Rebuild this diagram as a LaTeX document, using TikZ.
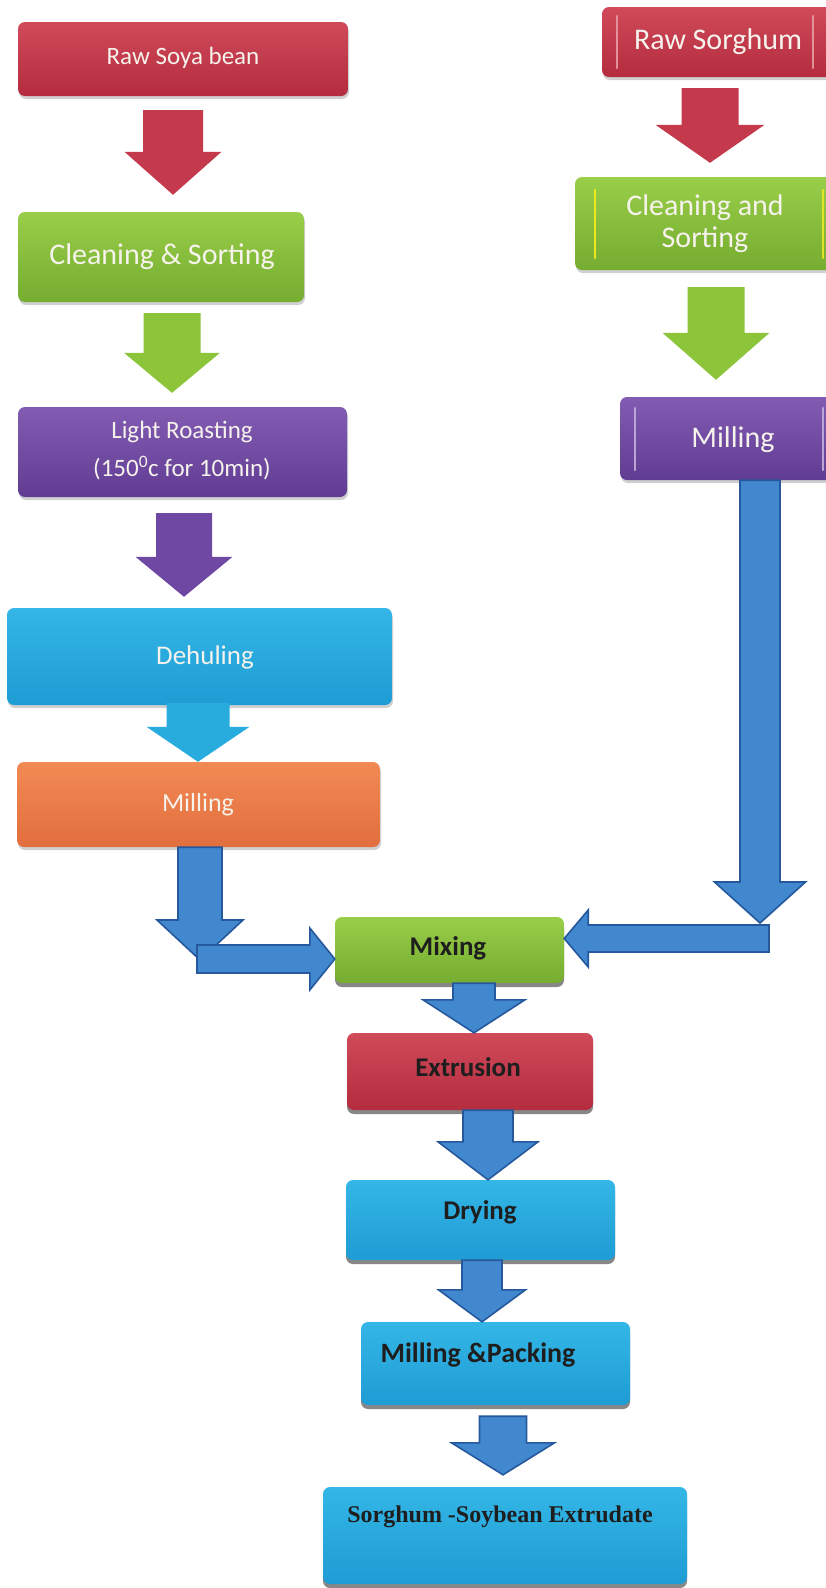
\documentclass[tikz,border=0pt]{standalone}
\usepackage{fontspec}
\setmainfont{Carlito}
\newfontfamily\timesf{Liberation Serif}
\usetikzlibrary{calc,shadows}

\definecolor{redT}{RGB}{208,74,90}
\definecolor{redB}{RGB}{180,44,62}
\definecolor{grnT}{RGB}{152,206,72}
\definecolor{grnB}{RGB}{118,172,48}
\definecolor{purT}{RGB}{130,92,178}
\definecolor{purB}{RGB}{96,60,146}
\definecolor{cyaT}{RGB}{52,182,230}
\definecolor{cyaB}{RGB}{30,156,212}
\definecolor{oraT}{RGB}{242,138,84}
\definecolor{oraB}{RGB}{226,110,62}
\definecolor{redA}{RGB}{196,58,76}
\definecolor{grnA}{RGB}{140,196,58}
\definecolor{purA}{RGB}{110,72,162}
\definecolor{cyaA}{RGB}{40,172,222}
\definecolor{bluF}{RGB}{66,136,206}
\definecolor{bluD}{RGB}{38,88,158}
\definecolor{txtw}{RGB}{246,242,236}
\definecolor{txtk}{RGB}{30,30,30}

\newcommand\varr[6]{\path[#1] let \p1=#2, \p2=#3 in
  ({\x1-#4},\y1) -- ({\x1+#4},\y1) -- ({\x1+#4},{\y2+#6}) -- ({\x1+#5},{\y2+#6})
  -- (\x1,\y2) -- ({\x1-#5},{\y2+#6}) -- ({\x1-#4},{\y2+#6}) -- cycle;}
\newcommand\harr[6]{\path[#1] let \p1=#2, \p2=#3 in
  (\x1,{\y1+#4}) -- ({\x2-(#6)},{\y1+#4}) -- ({\x2-(#6)},{\y1+#5}) -- (\x2,\y1)
  -- ({\x2-(#6)},{\y1-#5}) -- ({\x2-(#6)},{\y1-#4}) -- (\x1,{\y1-#4}) -- cycle;}

\tikzset{
  box/.style={rounded corners=7pt, inner sep=0pt, draw=none},
  upshadow/.style={drop shadow={shadow xshift=1pt, shadow yshift=-3pt, fill=black!30, opacity=0.6}},
  loshadow/.style={drop shadow={shadow xshift=0pt, shadow yshift=-4pt, fill=black!55, opacity=0.85}},
  redbox/.style={box, top color=redT, bottom color=redB},
  grnbox/.style={box, top color=grnT, bottom color=grnB},
  purbox/.style={box, top color=purT, bottom color=purB},
  cyabox/.style={box, top color=cyaT, bottom color=cyaB},
  orabox/.style={box, top color=oraT, bottom color=oraB},
  wlbl/.style={inner sep=0pt, text=txtw, align=center},
  klbl/.style={inner sep=0pt, text=txtk, align=center, font=\bfseries\fontsize{27}{30}\selectfont},
  bevel/.style={line width=2.5pt, line cap=round},
  redarr/.style={fill=redA},
  grnarr/.style={fill=grnA},
  purarr/.style={fill=purA},
  cyaarr/.style={fill=cyaA},
  bluarr/.style={fill=bluF, draw=bluD, line width=1.6pt, line join=miter},
}

\begin{document}
\begin{tikzpicture}[x=1pt, y=-1pt]
\useasboundingbox (0,0) rectangle (826,1588);
\fill[white] (0,0) rectangle (826,1588);
\clip (0,0) rectangle (826,1588);

% ---- boxes ----
\node[redbox, upshadow, minimum width=330pt, minimum height=74pt] (soya) at (183,59) {};
\node[grnbox, upshadow, minimum width=286pt, minimum height=90pt] (clean1) at (161,257) {};
\node[purbox, upshadow, minimum width=329pt, minimum height=90pt] (roast) at (182.5,452) {};
\node[cyabox, upshadow, minimum width=385pt, minimum height=97pt] (dehul) at (199.5,656.5) {};
\node[orabox, upshadow, minimum width=363pt, minimum height=85pt] (mill1) at (198.5,804.5) {};

\node[redbox, upshadow, minimum width=244pt, minimum height=70pt] (sorg) at (724,42) {};
\node[grnbox, upshadow, minimum width=271pt, minimum height=93pt] (clean2) at (710.5,223.5) {};
\node[purbox, upshadow, minimum width=226pt, minimum height=83pt] (mill2) at (733,438.5) {};

% bevel highlights on right column
\draw[bevel, draw=redT!60!white] (617,16) -- (617,68);
\draw[bevel, draw=redT!60!white] (813,16) -- (813,68);
\draw[bevel, draw=yellow!80!grnT] (595,190) -- (595,258);
\draw[bevel, draw=yellow!70!grnT] (823,190) -- (823,258);
\draw[bevel, draw=purT!55!white] (635,408) -- (635,470);
\draw[bevel, draw=purT!55!white] (823,408) -- (823,470);

\node[grnbox, loshadow, minimum width=229pt, minimum height=66pt] (mix) at (449.5,950) {};
\node[redbox, loshadow, minimum width=246pt, minimum height=77pt] (extr) at (470,1071.5) {};
\node[cyabox, loshadow, minimum width=269pt, minimum height=80pt] (dry) at (480.5,1220) {};
\node[cyabox, loshadow, minimum width=269pt, minimum height=83pt] (pack) at (495.5,1363.5) {};
\node[cyabox, loshadow, minimum width=364pt, minimum height=97pt] (final) at (505,1535.5) {};

% ---- labels ----
\node[wlbl, font=\fontsize{25}{28}\selectfont] (tsoya) at (183,58) {Raw Soya bean};
\node[wlbl, font=\fontsize{30}{34}\selectfont] (tclean1) at (162,257) {Cleaning \& Sorting};
\node[wlbl, font=\fontsize{25}{38}\selectfont] (troast) at (182,451) {Light Roasting\\(150\textsuperscript{0}c for 10min)};
\node[wlbl, font=\fontsize{27}{30}\selectfont] (tdehul) at (205,657) {Dehuling};
\node[wlbl, font=\fontsize{26}{30}\selectfont] (tmill1) at (198,805) {Milling};
\node[wlbl, font=\fontsize{30}{34}\selectfont] (tsorg) at (718,42) {Raw Sorghum};
\node[wlbl, font=\fontsize{30}{32}\selectfont] (tclean2) at (705,224) {Cleaning and\\Sorting};
\node[wlbl, font=\fontsize{30}{34}\selectfont] (tmill2) at (733,440) {Milling};

\node[klbl] (tmix) at (448,948) {Mixing};
\node[klbl] (textr) at (468,1067) {Extrusion};
\node[klbl] (tdry) at (480,1212) {Drying};
\node[klbl, font=\bfseries\fontsize{28}{30}\selectfont] (tpack) at (478,1355) {Milling \&Packing};
\node[inner sep=0pt, text=txtk, font=\timesf\bfseries\fontsize{24}{28}\selectfont] (tfinal) at (500,1517) {Sorghum -Soybean Extrudate};

% ---- coloured block arrows ----
\varr{redarr}{([xshift=-10pt,yshift=-14pt]soya.south)}{([yshift=17pt]clean1.north)}{30pt}{48.5pt}{43pt}
\varr{grnarr}{([xshift=11pt,yshift=-11pt]clean1.south)}{([yshift=14pt]roast.north)}{28.5pt}{48pt}{40pt}
\varr{purarr}{([xshift=1.5pt,yshift=-16pt]roast.south)}{([yshift=11pt]dehul.north)}{28pt}{48.5pt}{40pt}
\varr{cyaarr}{([xshift=-1.5pt,yshift=2pt]dehul.south)}{(mill1.north)}{31.5pt}{51.5pt}{35pt}
\varr{redarr}{([xshift=-14pt,yshift=-11pt]sorg.south)}{([yshift=14pt]clean2.north)}{28.5pt}{54.5pt}{38pt}
\varr{grnarr}{([xshift=5.5pt,yshift=-17pt]clean2.south)}{([yshift=17pt]mill2.north)}{28.5pt}{53.5pt}{47pt}

% ---- blue block arrows ----
\coordinate (rj) at (760,923);
\coordinate (rt) at (769,938.5);
\coordinate (lj) at (200,960);
\coordinate (lt) at (197,959);
\varr{bluarr}{([xshift=27pt]mill2.south)}{(rj)}{20pt}{45.5pt}{41pt}
\harr{bluarr}{(rt)}{([yshift=11.5pt]mix.east)}{13.5pt}{28.5pt}{-24pt}
\varr{bluarr}{([xshift=1.5pt]mill1.south)}{(lj)}{22pt}{43pt}{40pt}
\harr{bluarr}{(lt)}{([yshift=-9pt]mix.west)}{14pt}{31pt}{25pt}
\varr{bluarr}{([xshift=24.5pt]mix.south)}{(extr.north)}{21pt}{51pt}{33pt}
\varr{bluarr}{([xshift=18pt]extr.south)}{(dry.north)}{25pt}{50pt}{38pt}
\varr{bluarr}{([xshift=1.5pt]dry.south)}{(pack.north)}{20pt}{43.5pt}{32pt}
\varr{bluarr}{([xshift=7.5pt,yshift=-11pt]pack.south)}{([yshift=12pt]final.north)}{23.5pt}{51.5pt}{32pt}
\end{tikzpicture}
\end{document}
